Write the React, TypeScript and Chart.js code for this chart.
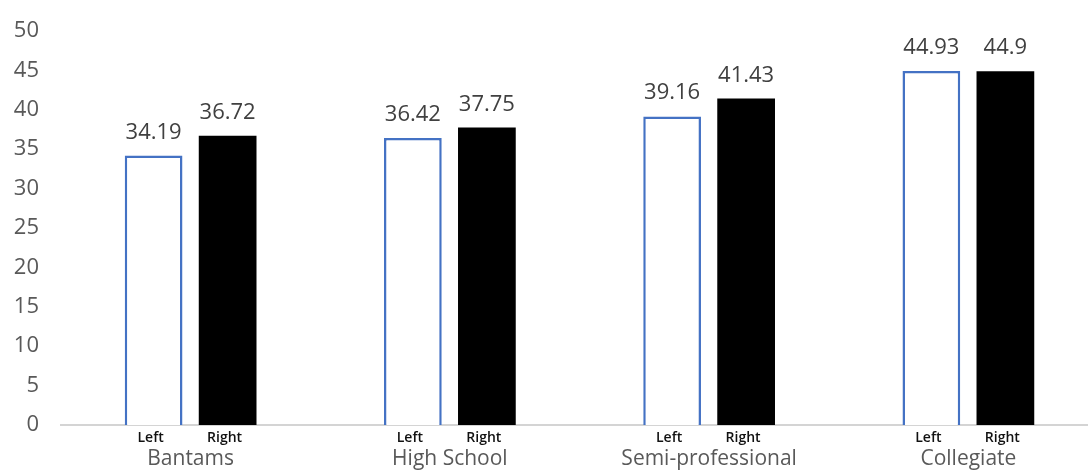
import React, { useEffect, useRef } from "react";
import { Chart, registerables } from "chart.js";

Chart.register(...registerables);

const categories = ["Bantams", "High School", "Semi-professional", "Collegiate"];
const leftValues = [34.19, 36.42, 39.16, 44.93];
const rightValues = [36.72, 37.75, 41.43, 44.9];
const seriesNames = ["Left", "Right"];
const valueLabels = [
  ["34.19", "36.42", "39.16", "44.93"],
  ["36.72", "37.75", "41.43", "44.9"],
];
const yMin = 0;
const yMax = 50;
const yStep = 5;

const FONT = "'Open Sans', 'DejaVu Sans', sans-serif";

const labelPlugin = {
  id: "customLabels",
  afterDatasetsDraw(chart: any) {
    const ctx = chart.ctx;
    const xScale = chart.scales.x;
    ctx.save();
    chart.data.datasets.forEach((ds: any, di: number) => {
      const meta = chart.getDatasetMeta(di);
      meta.data.forEach((bar: any, i: number) => {
        ctx.font = `22px ${FONT}`;
        ctx.fillStyle = "#404040";
        ctx.textAlign = "center";
        ctx.textBaseline = "alphabetic";
        ctx.fillText(valueLabels[di][i], bar.x, bar.y - 17);
        ctx.font = `600 14px ${FONT}`;
        ctx.fillStyle = "#111111";
        ctx.textBaseline = "middle";
        ctx.fillText(seriesNames[di], bar.x - 3, 438);
      });
    });
    categories.forEach((c, i) => {
      const x = xScale.getPixelForValue(i);
      ctx.font = `21px ${FONT}`;
      ctx.fillStyle = "#595959";
      ctx.textAlign = "center";
      ctx.textBaseline = "middle";
      ctx.fillText(c, x, 459);
    });
    ctx.restore();
  },
};

export default function App() {
  const ref = useRef<HTMLCanvasElement>(null);
  useEffect(() => {
    if (!ref.current) return;
    const chart = new Chart(ref.current, {
      type: "bar",
      data: {
        labels: categories,
        datasets: [
          {
            label: seriesNames[0],
            data: leftValues,
            backgroundColor: "#ffffff",
            borderColor: "#4472C4",
            borderWidth: 2.5,
            categoryPercentage: 0.571,
            barPercentage: 0.78,
          },
          {
            label: seriesNames[1],
            data: rightValues,
            backgroundColor: "#000000",
            borderColor: "#000000",
            borderWidth: 0,
            categoryPercentage: 0.571,
            barPercentage: 0.78,
          },
        ],
      },
      options: {
        responsive: false,
        animation: false,
        devicePixelRatio: 1,
        layout: { padding: { top: 31, right: 0, left: 0, bottom: 0 } },
        plugins: {
          legend: { display: false },
          tooltip: { enabled: false },
        },
        scales: {
          x: {
            grid: { display: false },
            border: { display: true, color: "#d4d4d4", width: 2 },
            ticks: { display: false },
            afterFit(scale: any) {
              scale.height = 48;
            },
          },
          y: {
            min: yMin,
            max: yMax,
            grid: { display: false },
            border: { display: false },
            ticks: {
              stepSize: yStep,
              color: "#595959",
              font: { size: 22, family: FONT },
              padding: 14,
            },
            afterFit(scale: any) {
              scale.width = 61;
            },
          },
        },
      },
      plugins: [labelPlugin],
    });
    return () => chart.destroy();
  }, []);
  return (
    <div style={{ position: "absolute", left: 0, top: 0, width: 1098, height: 473, background: "#ffffff", overflow: "hidden" }}>
      <canvas ref={ref} width={1098} height={473} />
    </div>
  );
}
